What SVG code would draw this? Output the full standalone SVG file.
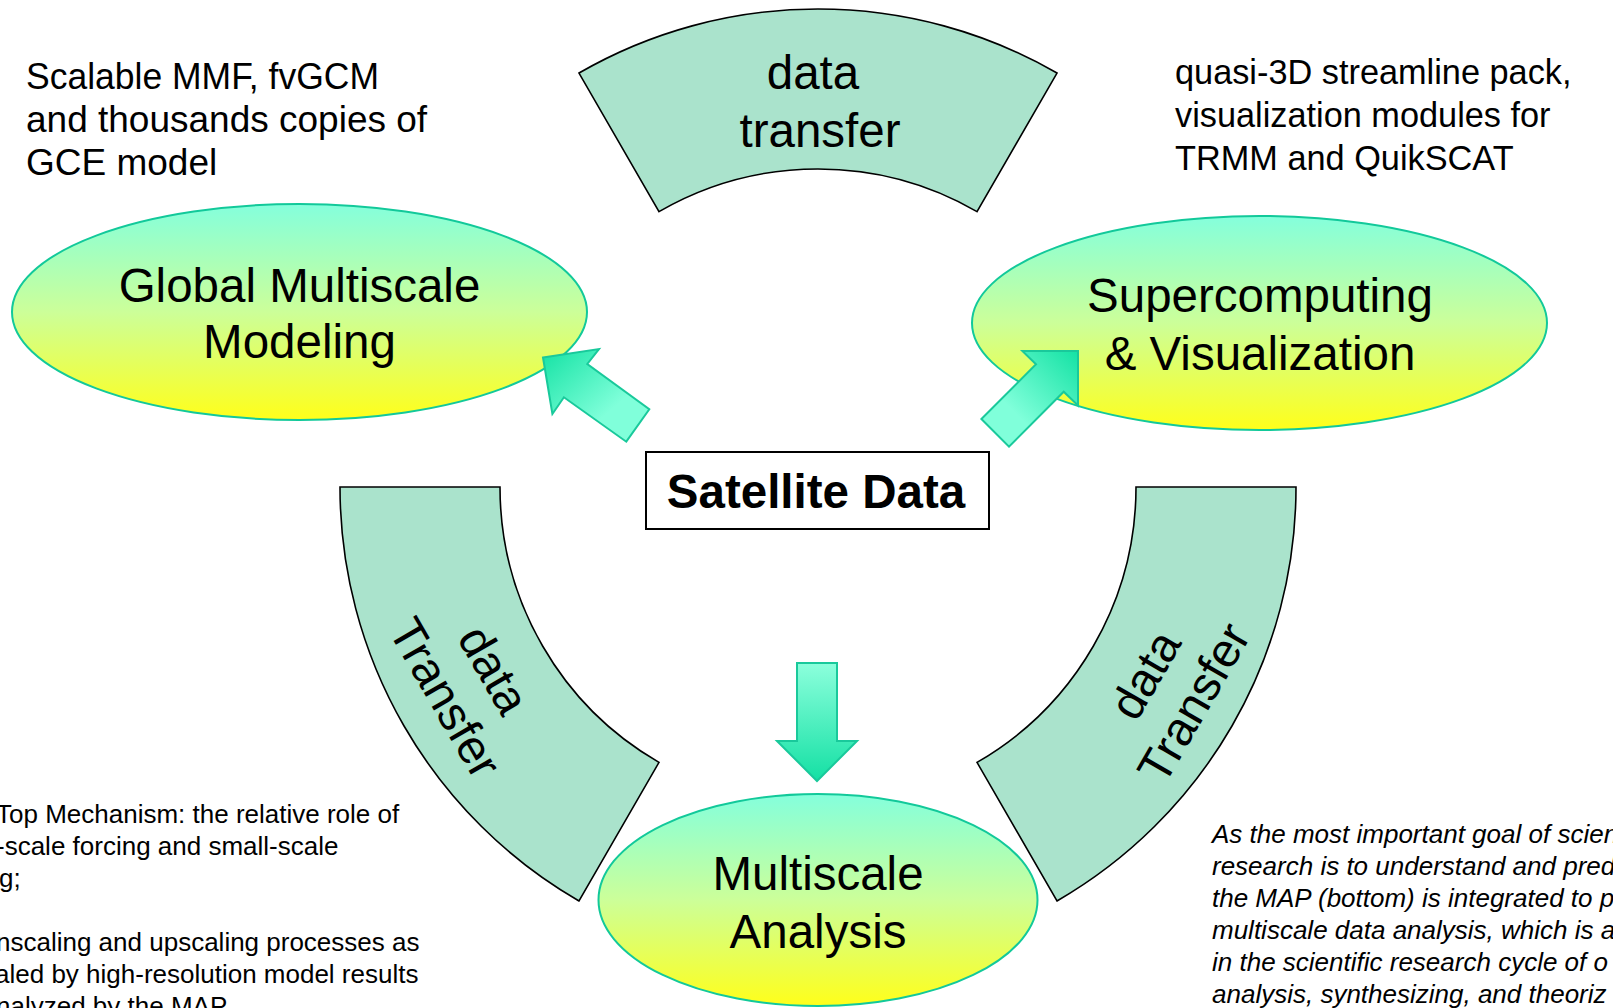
<svg xmlns="http://www.w3.org/2000/svg" width="1613" height="1008" viewBox="0 0 1613 1008">
<defs>
<linearGradient id="ellGrad" x1="0" y1="0" x2="0" y2="1">
<stop offset="0" stop-color="#84FFDC"/>
<stop offset="0.5" stop-color="#CCFF99"/>
<stop offset="1" stop-color="#FFFF1A"/>
</linearGradient>
<linearGradient id="downGrad" x1="0" y1="0" x2="0" y2="1">
<stop offset="0" stop-color="#8CFFDC"/>
<stop offset="1" stop-color="#14E0A4"/>
</linearGradient>
<linearGradient id="leftGrad" x1="1" y1="1" x2="0" y2="0">
<stop offset="0" stop-color="#80FFDA"/>
<stop offset="0.35" stop-color="#80FFDA"/>
<stop offset="1" stop-color="#14E2A4"/>
</linearGradient>
<linearGradient id="rightGrad" x1="0" y1="1" x2="1" y2="0">
<stop offset="0" stop-color="#80FFDA"/>
<stop offset="0.35" stop-color="#80FFDA"/>
<stop offset="1" stop-color="#14E2A4"/>
</linearGradient>
</defs>
<style>
.arc{fill:#AAE3CC;stroke:#000;stroke-width:1.6}
.ell{fill:url(#ellGrad);stroke:#12C99A;stroke-width:2}
.arrow{stroke:#19C99B;stroke-width:2;stroke-linejoin:miter}
.big{font-family:"Liberation Sans",Arial,sans-serif;font-size:47.5px;fill:#000;text-anchor:middle}
.note{font-family:"Liberation Sans",Arial,sans-serif;fill:#000}
.small{font-family:"Liberation Sans",Arial,sans-serif;font-size:26px;fill:#000}
.ital{font-style:italic}
</style>
<rect width="1613" height="1008" fill="#FFFFFF"/>

<g id="arc-top">
<path class="arc" d="M579,73.04 A478,478 0 0 1 1057,73.04 L977,211.6 A318,318 0 0 0 659,211.6 Z"/>
<text class="big" x="813" y="89">data</text>
<text class="big" x="820" y="147">transfer</text>
</g>
<g id="arc-left">
<path class="arc" d="M340,487 L500,487 A318,318 0 0 0 659,762.4 L579,900.96 A478,478 0 0 1 340,487 Z"/>
<g transform="translate(471,683) rotate(60)">
<text class="big" x="0" y="-10">data</text>
<text class="big" x="0" y="46">Transfer</text>
</g>
</g>
<g id="arc-right">
<path class="arc" d="M1296,487 A478,478 0 0 1 1057,900.96 L977,762.4 A318,318 0 0 0 1136,487 Z"/>
<g transform="translate(1168,688) rotate(-60)">
<text class="big" x="0" y="-10">data</text>
<text class="big" x="0" y="46">Transfer</text>
</g>
</g>

<g id="node-global">
<ellipse class="ell" cx="299.5" cy="312" rx="287.5" ry="108"/>
<text class="big" x="299.5" y="301.5">Global Multiscale</text>
<text class="big" x="299.5" y="358">Modeling</text>
</g>
<g id="node-super">
<ellipse class="ell" cx="1259.5" cy="323" rx="287.5" ry="107"/>
<text class="big" x="1260" y="311.5">Supercomputing</text>
<text class="big" x="1260" y="370">&amp; Visualization</text>
</g>
<g id="node-analysis">
<ellipse class="ell" cx="818" cy="900" rx="219.5" ry="106"/>
<text class="big" x="818" y="890">Multiscale</text>
<text class="big" x="818" y="948">Analysis</text>
</g>
<g id="node-satellite">
<rect x="646" y="452" width="343" height="77" fill="#FFFFFF" stroke="#000" stroke-width="2"/>
<text class="big" x="816" y="508" font-weight="bold">Satellite Data</text>
</g>

<g id="connectors">
<polygon class="arrow" fill="url(#leftGrad)" points="543,357.5 599,349 587.3,364 649.3,409.3 626.3,441.7 563.9,397.3 552.4,414"/>
<polygon class="arrow" fill="url(#rightGrad)" points="1078,351 1078,405.5 1063.7,391.7 1009,446.7 981.4,419 1036,364.3 1022.4,351"/>
<polygon class="arrow" fill="url(#downGrad)" points="797,663 837,663 837,741 857,741 817,781 777,741 797,741"/>
</g>

<g id="note-top-left" class="note" font-size="37">
<text x="26" y="89" textLength="353" lengthAdjust="spacingAndGlyphs">Scalable MMF, fvGCM</text>
<text x="26" y="132">and thousands copies of</text>
<text x="26" y="175">GCE model</text>
</g>
<g id="note-top-right" class="note" font-size="34.3">
<text x="1175" y="84">quasi-3D streamline pack,</text>
<text x="1175" y="127">visualization modules for</text>
<text x="1175" y="170">TRMM and QuikSCAT</text>
</g>
<g id="note-bottom-left">
<text class="small" x="-4" y="823">Top Mechanism: the relative role of</text>
<text class="small" x="-4" y="855">-scale forcing and small-scale</text>
<text class="small" x="-1" y="887">g;</text>
<text class="small" x="-4" y="951">nscaling and upscaling processes as</text>
<text class="small" x="-5" y="983">aled by high-resolution model results</text>
<text class="small" x="-4" y="1015">nalyzed by the MAP</text>
</g>
<g id="note-bottom-right">
<text class="small ital" x="1212" y="843">As the most important goal of scien</text>
<text class="small ital" x="1212" y="875">research is to understand and pred</text>
<text class="small ital" x="1212" y="907">the MAP (bottom) is integrated to p</text>
<text class="small ital" x="1212" y="939">multiscale data analysis, which is a</text>
<text class="small ital" x="1212" y="971">in the scientific research cycle of o</text>
<text class="small ital" x="1212" y="1003">analysis, synthesizing, and theoriz</text>
</g>
</svg>
